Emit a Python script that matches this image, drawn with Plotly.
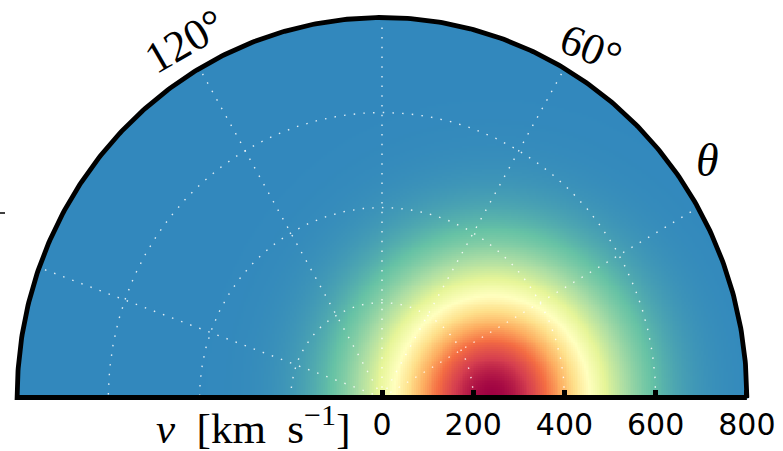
import numpy as np
import plotly.graph_objects as go

# ---- model / axis parameters (km/s, degrees) ----
V_MAX = 800            # outer radius of the half-disc
V_STEP = 4             # resolution of the density grid
V0 = 238.0             # dispersion of the velocity distribution
V_E = 240.0            # offset of the peak along theta = 0
R_TICKS = [0, 200, 400, 600, 800]
R_TICK_TEXT = ["0", "200", "400", "600", "800"]
R_GRID = [200, 400, 600]
THETA_GRID = [30, 60, 90, 120, 160]
THETA_TICK_TEXT = ["120°", "60°"]
THETA_TICK_POS = [120, 58]
THETA_TICK_ANGLE = [-30, 22]

# Spectral colours, blue (low) -> dark red (high)
SPECTRAL = ["#3288bd", "#66c2a5", "#abdda4", "#e6f598", "#ffffbf",
            "#fee08b", "#fdae61", "#f46d43", "#d53e4f", "#9e0142"]
colorscale = [[i / (len(SPECTRAL) - 1), c] for i, c in enumerate(SPECTRAL)]

# ---- density on the (vx, vy) half plane ----
vx = np.arange(-V_MAX, V_MAX + V_STEP, V_STEP, dtype=float)
vy = np.arange(0, V_MAX + V_STEP, V_STEP, dtype=float)
VX, VY = np.meshgrid(vx, vy)
dens = np.exp(-((VX - V_E) ** 2 + VY ** 2) / V0 ** 2)
dens = np.round(dens, 4)
dens = np.where(np.hypot(VX, VY) <= V_MAX, dens, np.nan)
z = [[None if np.isnan(v) else float(v) for v in row] for row in dens]

# ---- figure geometry (pixels) ----
W, H = 783, 451
ML, MR, MT, MB = 8, 27, 8, 44
XR = [-820, 820]
YR = [-20, 820]
PW, PH = W - ML - MR, H - MT - MB


def paper_x(px):
    return (px - ML) / PW


def paper_y(py):
    return (H - MB - py) / PH


fig = go.Figure()

fig.add_trace(go.Heatmap(
    x=vx, y=vy, z=z, colorscale=colorscale, zmin=0, zmax=1,
    showscale=False, hoverinfo="skip", zsmooth=False,
))

grid_line = dict(color="rgba(255,255,255,0.85)", width=1.4, dash="1.5px,8.2px")
t = np.linspace(0, np.pi, 361)
for r in R_GRID:
    fig.add_trace(go.Scatter(x=r * np.cos(t), y=r * np.sin(t), mode="lines",
                             line=grid_line, hoverinfo="skip", showlegend=False))
for th in THETA_GRID:
    a = np.deg2rad(th)
    fig.add_trace(go.Scatter(x=[0, V_MAX * np.cos(a)], y=[0, V_MAX * np.sin(a)],
                             mode="lines", line=grid_line, hoverinfo="skip",
                             showlegend=False))

# outer frame: arc plus baseline
bx = np.concatenate([V_MAX * np.cos(t), [V_MAX]])
by = np.concatenate([V_MAX * np.sin(t), [0]])
fig.add_trace(go.Scatter(x=bx, y=by, mode="lines",
                         line=dict(color="black", width=4.8),
                         hoverinfo="skip", showlegend=False))

annotations = []
for txt, th, ang in zip(THETA_TICK_TEXT, THETA_TICK_POS, THETA_TICK_ANGLE):
    a = np.deg2rad(th)
    annotations.append(dict(
        x=866 * np.cos(a), y=866 * np.sin(a), xref="x", yref="y",
        text=txt, showarrow=False, textangle=ang,
        font=dict(family="Liberation Serif", size=44, color="black"),
    ))
a = np.deg2rad(35)
annotations.append(dict(
    x=871 * np.cos(a), y=871 * np.sin(a), xref="x", yref="y",
    text="<i>θ</i>", showarrow=False,
    font=dict(family="Liberation Serif", size=46, color="black"),
))
annotations.append(dict(
    x=paper_x(352), y=paper_y(425), xref="paper", yref="paper",
    xanchor="right", yanchor="middle",
    text="<i>v</i>  [km  s<sup>−1</sup>]", showarrow=False,
    font=dict(family="Liberation Serif", size=43, color="black"),
))

fig.update_layout(
    width=W, height=H,
    margin=dict(l=ML, r=MR, t=MT, b=MB, pad=0),
    paper_bgcolor="white", plot_bgcolor="white",
    showlegend=False,
    annotations=annotations,
    shapes=[dict(type="line", xref="paper", yref="paper",
                 x0=paper_x(0), x1=paper_x(5), y0=paper_y(213), y1=paper_y(213),
                 line=dict(color="black", width=1.5))],
    xaxis=dict(range=XR, showgrid=False, zeroline=False, showline=False,
               tickmode="array", tickvals=R_TICKS, ticktext=R_TICK_TEXT,
               ticks="inside", ticklen=8, tickwidth=5, tickcolor="black",
               ticklabelstandoff=6,
               tickfont=dict(family="DejaVu Sans", size=30, color="black"),
               anchor="free", position=(0 - YR[0]) / (YR[1] - YR[0]),
               fixedrange=True),
    yaxis=dict(range=YR, visible=False, showgrid=False, zeroline=False,
               fixedrange=True),
)

fig.write_html("out.html")
